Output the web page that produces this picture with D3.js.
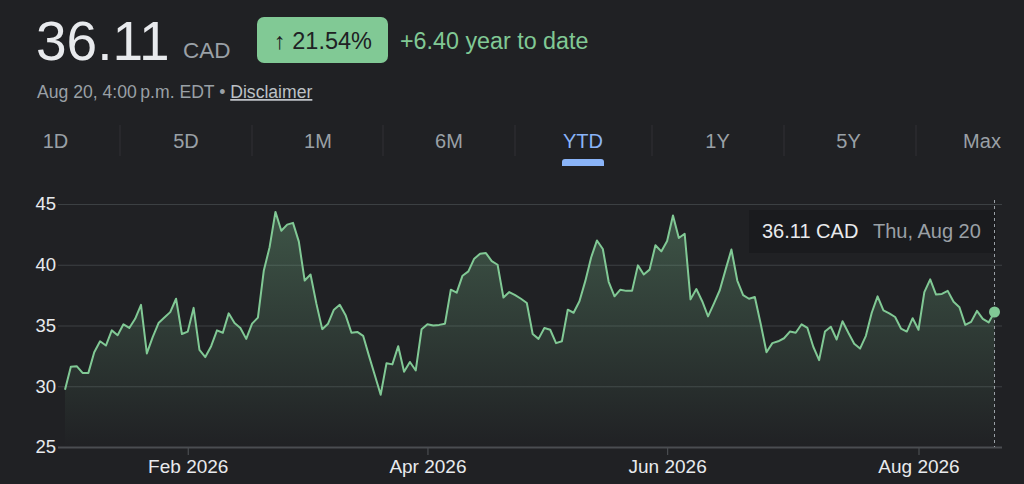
<!DOCTYPE html>
<html>
<head>
<meta charset="utf-8">
<script src="https://cdn.jsdelivr.net/npm/d3@7"></script>
<style>
  html, body { margin: 0; padding: 0; background: #202124; }
  svg { display: block; font-family: "Liberation Sans", Arial, sans-serif; }
</style>
</head>
<body>
<svg id="chart"></svg>
<script>
// daily closes, YTD (one per trading day)
const closes = [
  29.71, 31.6, 31.65, 31.1, 31.1, 32.8, 33.7, 33.35, 34.6, 34.2,
  35.1, 34.8, 35.55, 36.7, 32.7, 34.05, 35.2, 35.65, 36.1, 37.2,
  34.3, 34.5, 36.45, 33.0, 32.4, 33.3, 34.6, 34.4, 36.0, 35.2,
  34.8, 33.9, 35.15, 35.65, 39.5, 41.45, 44.35, 42.8, 43.3, 43.45,
  41.9, 38.7, 39.2, 36.8, 34.7, 35.15, 36.3, 36.7, 35.85, 34.4,
  34.47, 34.15, 32.5, 30.9, 29.3, 31.9, 31.8, 33.3, 31.2, 32.0,
  31.3, 34.7, 35.1, 35.0, 35.05, 35.15, 37.95, 37.7, 39.1, 39.45,
  40.5, 40.9, 40.96, 40.3, 40.0, 37.3, 37.75, 37.5, 37.2, 36.85,
  34.3, 33.9, 34.8, 34.65, 33.55, 33.7, 36.3, 36.05, 37.0, 38.65,
  40.6, 42.0, 41.3, 38.6, 37.4, 37.95, 37.85, 37.85, 39.95, 39.2,
  39.6, 41.6, 41.1, 41.95, 44.05, 42.2, 42.55, 37.15, 38.0, 37.0,
  35.75, 36.8, 37.9, 39.6, 41.25, 38.7, 37.5, 37.2, 37.35, 35.15,
  32.8, 33.55, 33.7, 33.95, 34.5, 34.4, 35.1, 34.8, 33.25, 32.15,
  34.5, 34.9, 33.85, 35.35, 34.4, 33.5, 33.1, 34.15, 36.05, 37.4,
  36.25, 36.0, 35.7, 34.75, 34.5, 35.6, 34.65, 37.75, 38.8, 37.55,
  37.6, 37.85, 36.95, 36.5, 35.05, 35.3, 36.2, 35.55, 35.25, 36.11
];

const xTickIndex = [21, 62, 103, 146];
const xTickLabels = ["Feb 2026", "Apr 2026", "Jun 2026", "Aug 2026"];
const yTicks = [25, 30, 35, 40, 45];
const ranges = ["1D", "5D", "1M", "6M", "YTD", "1Y", "5Y", "Max"];

const price = "36.11";
const currency = "CAD";
const pctChange = "21.54%";
const absChange = "+6.40 year to date";
const tipDate = "Thu, Aug 20";

const width = 1024, height = 484;
const green = "#81c995", blue = "#8ab4f8";

const svg = d3.select("#chart").attr("width", width).attr("height", height);
svg.append("rect").attr("width", width).attr("height", height).attr("fill", "#202124");

// 头部
svg.append("text").attr("x", 36).attr("y", 60)
  .attr("font-size", 55).attr("fill", "#e8eaed").text(price);
svg.append("text").attr("x", 183).attr("y", 58)
  .attr("font-size", 22.5).attr("fill", "#9aa0a6").text(currency);

svg.append("rect").attr("x", 257).attr("y", 17).attr("width", 131).attr("height", 46)
  .attr("rx", 7).attr("fill", green);
svg.append("text").attr("x", 323).attr("y", 49).attr("text-anchor", "middle")
  .attr("font-size", 23.5).attr("fill", "#202124").text("\u2191 " + pctChange);
svg.append("text").attr("x", 400).attr("y", 49)
  .attr("font-size", 23.3).attr("fill", green).text(absChange);

const sub = svg.append("text").attr("x", 37).attr("y", 98)
  .attr("font-size", 17.6).attr("fill", "#9aa0a6");
sub.append("tspan").text("Aug 20, 4:00\u202Fp.m. EDT \u2022 ");
sub.append("tspan").attr("text-decoration", "underline").attr("fill", "#bdc1c6").text("Disclaimer");

// 时间范围选项卡
const tabCenters = [55.5, 186, 318, 449, 583, 717.5, 848.5, 982];
const tabSeps = [120, 252, 383, 515, 652, 784, 916];
const tabs = svg.append("g").attr("class", "tabs");
tabSeps.forEach((sx) => {
  tabs.append("line").attr("x1", sx).attr("x2", sx)
    .attr("y1", 125).attr("y2", 156).attr("stroke", "#303134").attr("stroke-width", 1);
});
ranges.forEach((r, i) => {
  const cx = tabCenters[i];
  tabs.append("text").attr("x", cx).attr("y", 148).attr("text-anchor", "middle")
    .attr("font-size", 20).attr("fill", r === "YTD" ? blue : "#9aa0a6").text(r);
  if (r === "YTD") {
    tabs.append("path")
      .attr("d", `M${cx - 21},166 L${cx - 21},162 Q${cx - 21},159 ${cx - 18},159 L${cx + 18},159 Q${cx + 21},159 ${cx + 21},162 L${cx + 21},166 Z`)
      .attr("fill", blue);
  }
});

// 比例尺
const x = d3.scaleLinear().domain([0, closes.length - 1]).range([65, 994.5]);
const y = d3.scaleLinear().domain([25, 45]).range([447, 204]);
const gridL = 58, gridR = 1002;

// 网格 + y 轴
const yAxisG = svg.append("g").attr("transform", `translate(${gridL},0)`)
  .call(d3.axisLeft(y).tickValues(yTicks).tickSize(-(gridR - gridL)).tickPadding(2));
yAxisG.select(".domain").remove();
yAxisG.selectAll(".tick line")
  .attr("stroke", (d) => (d === 25 ? "#4a4d51" : "#3c4043"))
  .attr("stroke-width", (d) => (d === 25 ? 2 : 1.2));
yAxisG.selectAll(".tick text")
  .attr("fill", "#e8eaed").attr("font-size", 18.5)
  .attr("font-family", "Liberation Sans, Arial, sans-serif");

// x 轴
const xAxisG = svg.append("g").attr("transform", "translate(0,447)")
  .call(d3.axisBottom(x).tickValues(xTickIndex)
    .tickFormat((_, i) => xTickLabels[i]).tickSize(8).tickPadding(5));
xAxisG.select(".domain").remove();
xAxisG.selectAll(".tick line").attr("stroke", "#4a4d51").attr("stroke-width", 1.2);
xAxisG.selectAll(".tick text")
  .attr("fill", "#e8eaed").attr("font-size", 19)
  .attr("font-family", "Liberation Sans, Arial, sans-serif");

// 渐变填充
const grad = svg.append("defs").append("linearGradient")
  .attr("id", "fillGrad").attr("gradientUnits", "userSpaceOnUse")
  .attr("x1", 0).attr("x2", 0).attr("y1", y(45)).attr("y2", y(25));
grad.append("stop").attr("offset", 0).attr("stop-color", green).attr("stop-opacity", 0.32);
grad.append("stop").attr("offset", 1).attr("stop-color", green).attr("stop-opacity", 0);

const area = d3.area().x((d, i) => x(i)).y0(y(25)).y1((d) => y(d));
const line = d3.line().x((d, i) => x(i)).y((d) => y(d));

svg.append("path").datum(closes).attr("d", area).attr("fill", "url(#fillGrad)");

// 提示框
const last = closes.length - 1;
svg.append("rect").attr("x", 749).attr("y", 210).attr("width", 247).attr("height", 43)
  .attr("fill", "#1a1b1e");
svg.append("text").attr("x", 762).attr("y", 238).attr("font-size", 20)
  .attr("fill", "#e8eaed").text(`${closes[last].toFixed(2)} ${currency}`);
svg.append("text").attr("x", 873).attr("y", 238).attr("font-size", 20)
  .attr("fill", "#9aa0a6").text(tipDate);

svg.append("line").attr("x1", x(last)).attr("x2", x(last))
  .attr("y1", 200).attr("y2", 447)
  .attr("stroke", "#9aa0a6").attr("stroke-width", 1).attr("stroke-dasharray", "3,3");

svg.append("path").datum(closes).attr("d", line)
  .attr("fill", "none").attr("stroke", green).attr("stroke-width", 2)
  .attr("stroke-linejoin", "round");

svg.append("circle").attr("cx", x(last)).attr("cy", y(closes[last]))
  .attr("r", 5.5).attr("fill", green);
</script>
</body>
</html>
